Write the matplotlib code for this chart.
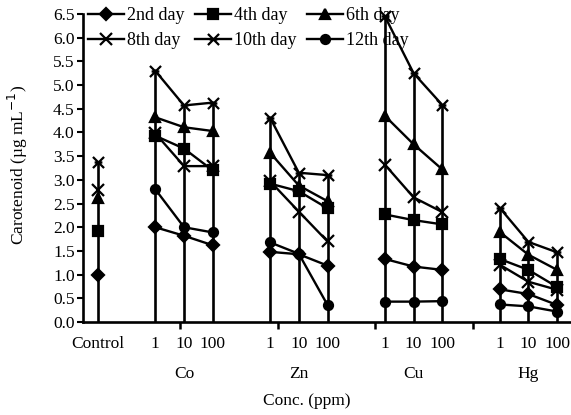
import numpy as np
import matplotlib
matplotlib.use("Agg")
import matplotlib.pyplot as plt
from matplotlib.path import Path
from matplotlib.transforms import blended_transform_factory

plt.rcParams['font.family'] = ['Liberation Serif', 'DejaVu Serif']

# ---- data ----
groups = ["Control", "Co", "Zn", "Cu", "Hg"]
group_positions = [[0], [2, 3, 4], [6, 7, 8], [10, 11, 12], [14, 15, 16]]
conc_labels = ["Control", "1", "10", "100", "1", "10", "100", "1", "10", "100", "1", "10", "100"]
series_names = ["2nd day", "4th day", "6th day", "8th day", "10th day", "12th day"]

day2 = [0.99, 2.00, 1.82, 1.62, 1.48, 1.43, 1.19, 1.33, 1.17, 1.10, 0.69, 0.59, 0.36]
day4 = [1.92, 3.93, 3.66, 3.20, 2.92, 2.76, 2.40, 2.27, 2.15, 2.06, 1.33, 1.10, 0.74]
day6 = [2.62, 4.32, 4.11, 4.03, 3.57, 2.88, 2.55, 4.35, 3.75, 3.22, 1.90, 1.42, 1.10]
day8 = [2.78, 3.98, 3.29, 3.29, 2.97, 2.33, 1.70, 3.32, 2.63, 2.32, 1.21, 0.85, 0.68]
day10 = [3.37, 5.30, 4.57, 4.63, 4.31, 3.15, 3.10, 6.45, 5.25, 4.58, 2.41, 1.69, 1.47]
day12 = [np.nan, 2.80, 2.00, 1.89, 1.68, 1.44, 0.36, 0.43, 0.43, 0.44, 0.37, 0.33, 0.22]
all_series = [day2, day4, day6, day8, day10, day12]

# ---- styles ----
asterisk = Path([(-1, -1), (1, 1), (-1, 1), (1, -1), (-0.7, 0), (0.7, 0)],
                [Path.MOVETO, Path.LINETO, Path.MOVETO, Path.LINETO, Path.MOVETO, Path.LINETO])
markers = ["D", "s", "^", "x", asterisk, "o"]
msizes = [6.5, 6.5, 7, 8, 8, 6.5]

fig = plt.figure(figsize=(5.71, 4.15), dpi=100)
ax = fig.add_axes([83/571, 1-322/415, (570-83)/571, (322-14)/415])

xpos = [p for g in group_positions for p in g]

# vertical drop lines from 0 to the highest value at each concentration
vals = np.array(all_series, dtype=float)
tops = np.nanmax(vals, axis=0)
ax.vlines(xpos, 0, tops, color="black", lw=1.9, zorder=1)

handles = []
for s, name, m, ms in zip(all_series, series_names, markers, msizes):
    s = np.array(s, dtype=float)
    idx = 0
    h = None
    for g in group_positions:
        n = len(g)
        line, = ax.plot(g, s[idx:idx+n], color="black", lw=1.7, marker=m, markersize=ms,
                        markeredgewidth=1.6, markerfacecolor="black", markeredgecolor="black",
                        zorder=3, clip_on=False)
        if h is None:
            h = line
        idx += n
    handles.append(h)

ax.set_xlim(-0.52, 16.45)
ax.set_ylim(0, 6.5)
yt = np.arange(0, 6.51, 0.5)
ax.set_yticks(yt)
ax.set_yticklabels([f"{v:.1f}" for v in yt], fontsize=12.5)
ax.set_xticks(xpos)
ax.set_xticklabels(conc_labels, fontsize=12.5)
ax.tick_params(axis="x", which="major", length=0, pad=10)
ax.set_xticks([2.86, 6.27, 9.67, 13.07], minor=True)
ax.tick_params(axis="x", which="minor", length=5, width=1.8, direction="out")
ax.tick_params(axis="y", length=4, width=1.5, direction="out", pad=2)

for sp in ["top", "right"]:
    ax.spines[sp].set_visible(False)
for sp in ["left", "bottom"]:
    ax.spines[sp].set_linewidth(1.9)

trans = blended_transform_factory(ax.transData, ax.transAxes)
for name, g in zip(groups[1:], group_positions[1:]):
    ax.text(g[1], -0.168, name, transform=trans, ha="center", va="center", fontsize=12.5)
ax.text(0.46, -0.255, "Conc. (ppm)", transform=ax.transAxes, ha="center", va="center",
        fontsize=12.5)
fig.text(18/571, 1-165/415, "Carotenoid (\u00b5g mL$^{-1}$)", rotation=90,
         ha="center", va="center", fontsize=12.5)

# legend filled row-wise: 2nd 4th 6th / 8th 10th 12th
order = [0, 3, 1, 4, 2, 5]
leg = ax.legend([handles[i] for i in order], [series_names[i] for i in order],
                ncol=3, loc="upper left", bbox_to_anchor=(0.01, 1.022), frameon=False,
                fontsize=13, handlelength=2.0, handletextpad=0.15, columnspacing=0.6,
                labelspacing=0.45, borderaxespad=0.0, borderpad=0.0)

fig.savefig("out.png", dpi=100)
